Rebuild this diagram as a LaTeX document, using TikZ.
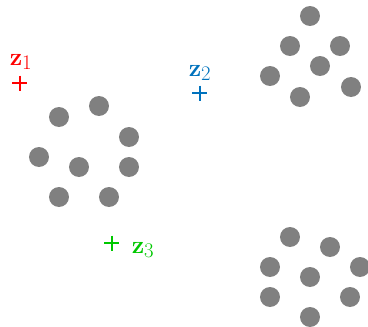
\documentclass[tikz,border=0pt]{standalone}
\usepackage{tikz}
\definecolor{zred}{RGB}{255,0,0}
\definecolor{zblue}{RGB}{0,114,189}
\definecolor{zgreen}{RGB}{0,200,0}
\definecolor{dotgray}{RGB}{128,128,128}

\begin{document}
\begin{tikzpicture}[
  x=1pt, y=-1pt,
  pt/.style={circle, fill=dotgray, inner sep=0pt, minimum size=20pt},
  zlab/.style={font=\fontsize{28}{32}\selectfont, inner sep=0pt},
  zplus/.style={line width=2.4pt},
]
\useasboundingbox (0,0) rectangle (368,327);
% sample clusters
\foreach \x/\y [count=\i] in {59/117, 99/106, 129/137, 39/157, 79/167, 129/167, 59/197, 109/197}
  \node[pt] (a\i) at (\x,\y) {};
\foreach \x/\y [count=\i] in {310/16, 290/46, 340/46, 320/66, 270/76, 300/97, 351/87}
  \node[pt] (b\i) at (\x,\y) {};
\foreach \x/\y [count=\i] in {290/237, 330/247, 270/267, 310/277, 360/267, 270/297, 350/297, 310/317}
  \node[pt] (c\i) at (\x,\y) {};
% centroids
\coordinate (z1) at (20,83);
\coordinate (z2) at (200,93);
\coordinate (z3) at (112,243);
\draw[zplus, zred] (z1) +(-7.5,0) -- +(7.5,0) (z1) +(0,-7.5) -- +(0,7.5);
\draw[zplus, zblue] (z2) +(-7.5,0) -- +(7.5,0) (z2) +(0,-7.5) -- +(0,7.5);
\draw[zplus, zgreen] (z3) +(-7.5,0) -- +(7.5,0) (z3) +(0,-7.5) -- +(0,7.5);
\node[zlab, text=zred] (l1) at (21,62) {$\mathbf{z}_1$};
\node[zlab, text=zblue] (l2) at (200,73) {$\mathbf{z}_2$};
\node[zlab, text=zgreen] (l3) at (143,250) {$\mathbf{z}_3$};
\end{tikzpicture}
\end{document}
